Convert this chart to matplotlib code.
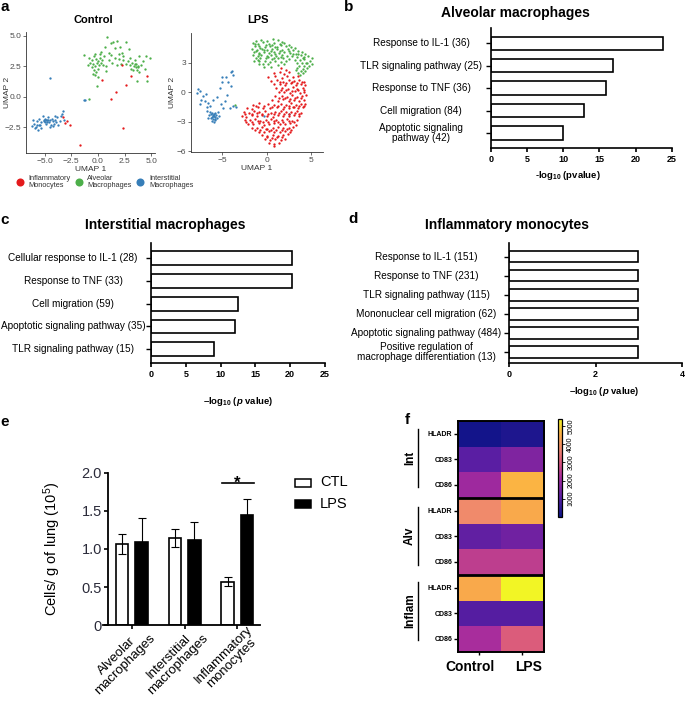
import numpy as np
import matplotlib
matplotlib.use('Agg')
import matplotlib.pyplot as plt
from matplotlib.colors import LinearSegmentedColormap
from matplotlib.patches import Rectangle
import matplotlib.transforms as mtransforms

plt.rcParams['font.family'] = ['Liberation Sans', 'DejaVu Sans']
plt.rcParams['mathtext.fontset'] = 'custom'
plt.rcParams['mathtext.rm'] = 'Liberation Sans'
plt.rcParams['mathtext.bf'] = 'Liberation Sans:bold'
plt.rcParams['mathtext.it'] = 'Liberation Sans:bold:italic'

# ---------------- data ----------------
# UMAP, Control
ctl_alv = [(-0.8,3.2),(-0.6,3.0),(-0.4,3.3),(-0.2,3.1),(0.0,2.9),(0.2,3.2),(0.4,3.0),(-0.5,2.7),(-0.3,2.5),(-0.1,2.8),
           (0.1,2.6),(0.3,2.8),(-0.7,2.8),(-0.9,2.6),(-0.4,2.2),(-0.2,2.0),(0.0,2.3),(-0.6,2.4),(0.5,2.6),(0.6,3.3),
           (-0.3,3.5),(0.2,3.5),(-0.5,1.9),(0.0,1.6),(-0.3,1.8),
           (2.8,2.9),(3.0,2.6),(3.2,2.8),(3.4,2.5),(3.6,2.7),(3.8,2.4),(4.0,2.6),(3.3,2.2),(3.7,2.2),(3.5,3.0),
           (2.6,2.7),(4.2,2.9),(3.9,2.0),(3.1,2.3),(2.4,3.0),(4.4,2.3),(3.0,3.2),(3.6,2.45),(3.45,2.65),(3.75,2.55),
           (1.0,3.0),(1.3,2.8),(1.6,3.2),(2.0,3.1),(2.2,2.7),(1.8,2.6),(0.8,2.5),(1.2,3.4),(2.0,3.5),(2.4,3.3),
           (0.9,4.9),(1.4,4.5),(1.8,4.6),(2.6,4.5),(1.2,4.4),(0.7,4.1),(2.1,4.1),(1.6,4.0),(2.9,3.9),(0.3,3.7),
           (2.3,3.6),(1.0,3.6),(-1.3,3.4),(3.9,3.3),(4.5,3.3),(4.9,3.2),
           (-0.06,0.85),(-0.85,-0.19),(4.6,1.25),(3.7,1.26),(0.73,2.08)]
ctl_inf = [(2.24,2.57),(0.41,1.34),(3.09,1.67),(4.57,1.67),(2.62,0.98),(1.73,0.36),(1.2,-0.16),(-3.31,-1.69),
           (-3.12,-2.16),(-2.59,-2.35),(2.37,-2.57),(-1.7,-3.99),(-2.9,-2.0)]
ctl_int = [(-6.2,-2.4),(-6.0,-2.2),(-5.8,-2.5),(-5.7,-2.0),(-5.5,-1.8),(-5.4,-2.3),(-5.3,-2.6),(-5.2,-1.6),(-5.1,-2.0),
           (-5.0,-1.8),(-4.9,-2.2),(-4.8,-1.9),(-4.7,-1.7),(-4.6,-2.1),(-4.5,-1.9),(-4.4,-2.3),(-4.3,-1.8),(-4.2,-2.0),
           (-4.1,-2.2),(-4.0,-1.9),(-3.9,-2.1),(-3.8,-1.7),(-3.7,-2.3),(-3.5,-1.6),(-3.4,-1.4),(-3.3,-1.2),(-3.2,-1.9),
           (-5.6,-2.7),(-5.9,-2.6),(-6.1,-1.9),(-4.95,-2.05),(-4.85,-1.95),(-4.75,-2.1),(-5.05,-1.9),(-4.65,-1.95),
           (-5.3,-2.1),(-4.5,-2.5),(-4.2,-2.4),(-3.6,-2.0),(-5.5,-2.3),(-5.7,-2.3),(-4.0,-1.6),
           (-4.5,1.55),(-1.17,-0.25),(-1.35,-0.3)]

# UMAP, LPS
lps_alv = [(-1.2,5.25),(-0.6,5.35),(0.1,5.2),(0.7,5.4),(1.3,5.3),(1.7,5.15),
           (-1.5,5.0),(-1.0,4.95),(-0.4,5.1),(0.3,4.9),(0.9,5.05),(1.5,4.95),(2.0,5.0),(2.5,4.85),
           (-1.3,4.7),(-0.8,4.75),(-0.2,4.6),(0.4,4.7),(1.0,4.65),(1.6,4.8),(2.2,4.7),(2.8,4.6),(3.2,4.5),
           (-1.6,4.4),(-1.1,4.35),(-0.5,4.45),(0.1,4.3),(0.6,4.45),(1.2,4.4),(1.8,4.35),(2.4,4.45),(3.0,4.3),(3.6,4.2),(4.0,4.1),
           (-1.4,4.1),(-0.9,4.05),(-0.3,4.15),(0.3,4.0),(0.8,4.1),(1.4,4.05),(2.0,4.15),(2.7,4.0),(3.3,3.95),(3.9,3.85),(4.4,3.9),
           (-1.5,3.8),(-1.0,3.7),(-0.6,3.85),(0.0,3.75),(0.5,3.8),(1.1,3.7),(1.7,3.85),(2.3,3.75),(2.9,3.7),(3.5,3.6),(4.1,3.55),(4.7,3.7),(5.1,3.5),
           (-1.2,3.5),(-0.7,3.45),(-0.1,3.55),(0.6,3.4),(1.3,3.5),(1.9,3.45),(2.6,3.4),(3.2,3.3),(3.8,3.25),(4.3,3.35),(4.9,3.2),
           (-1.4,3.2),(-0.8,3.15),(-0.2,3.2),(0.4,3.1),(1.0,3.2),(1.6,3.05),(2.2,3.15),(3.4,3.0),(4.0,2.95),(4.6,3.0),(5.2,2.9),
           (-0.9,2.9),(-0.4,2.85),(0.2,2.9),(1.3,2.8),(2.0,2.85),(3.7,2.7),(4.2,2.65),(4.8,2.7),
           (-0.3,2.6),(0.5,2.55),(3.5,2.45),(4.1,2.4),(4.6,2.5),
           (3.3,2.25),(3.9,2.15),(4.4,2.2),(3.6,1.95),(4.1,2.0),(3.8,1.75),
           (-1.3,4.9),(-0.7,4.55),(-0.1,4.85),(0.6,4.85),(1.2,4.6),(-1.2,4.25),(-0.3,4.3),(0.5,4.25),(1.0,3.95),
           (1.5,4.25),(-0.8,3.95),(0.2,3.6),(0.9,3.5),(-1.0,3.3),(1.6,3.6),(2.5,4.2),(3.0,3.9),(3.6,3.9),(4.2,3.6),(4.5,3.0),
           (-3.6,-1.3)]
lps_inf = [(1.6,2.45),(2.2,2.3),
           (0.9,2.0),(1.5,2.1),(2.0,1.9),(2.6,2.05),
           (0.2,1.55),(1.0,1.65),(1.7,1.5),(2.3,1.7),(3.0,1.55),(3.6,1.65),
           (0.5,1.2),(1.2,1.25),(1.9,1.1),(2.5,1.3),(3.1,1.15),(3.7,1.25),(4.2,1.1),
           (0.8,0.8),(1.5,0.85),(2.1,0.7),(2.8,0.9),(3.3,0.75),(3.9,0.85),(4.4,0.7),
           (1.1,0.4),(1.8,0.45),(2.4,0.3),(3.0,0.5),(3.5,0.35),(4.1,0.45),
           (1.4,0.0),(2.0,0.05),(2.7,-0.1),(3.2,0.1),(3.8,-0.05),(4.3,0.05),
           (1.0,-0.4),(1.7,-0.35),(2.3,-0.5),(2.9,-0.3),(3.4,-0.45),(4.0,-0.4),(4.5,-0.3),
           (0.6,-0.8),(1.3,-0.85),(1.9,-0.7),(2.6,-0.9),(3.1,-0.75),(3.7,-0.85),(4.2,-0.8),
           (-1.5,-1.25),(-0.8,-1.1),(0.2,-1.2),(0.9,-1.3),(1.6,-1.15),(2.2,-1.25),(2.8,-1.1),(3.3,-1.3),(3.9,-1.2),(4.4,-1.15),
           (-2.2,-1.6),(-1.6,-1.7),(-1.0,-1.55),(-0.4,-1.65),(0.4,-1.6),(1.2,-1.5),(1.9,-1.7),(2.5,-1.6),(3.0,-1.55),(3.6,-1.65),(4.1,-1.5),
           (-2.6,-2.0),(-2.0,-2.1),(-1.4,-1.95),(-0.8,-2.05),(-0.2,-1.95),(0.5,-2.1),(1.0,-2.0),(1.6,-1.9),(2.2,-2.05),(2.8,-2.0),(3.4,-1.9),(3.9,-2.1),
           (-2.8,-2.4),(-2.3,-2.5),(-1.7,-2.35),(-1.1,-2.45),(-0.5,-2.3),(0.1,-2.4),(0.7,-2.5),(1.3,-2.35),(1.9,-2.45),(2.5,-2.4),(3.1,-2.3),(3.7,-2.45),
           (-2.5,-2.8),(-1.9,-2.85),(-1.3,-2.75),(-0.7,-2.9),(-0.1,-2.8),(0.5,-2.7),(1.1,-2.85),(1.7,-2.8),(2.3,-2.75),(2.9,-2.9),(3.5,-2.8),
           (-2.1,-3.2),(-1.5,-3.25),(-0.9,-3.15),(-0.3,-3.3),(0.3,-3.2),(0.9,-3.1),(1.5,-3.25),(2.1,-3.2),(2.7,-3.15),(3.3,-3.3),
           (-1.7,-3.6),(-1.1,-3.65),(-0.5,-3.55),(0.1,-3.7),(0.7,-3.6),(1.3,-3.5),(1.9,-3.65),(2.5,-3.6),(3.0,-3.55),
           (-0.9,-4.0),(-0.3,-4.05),(0.3,-3.95),(0.9,-4.1),(1.5,-4.0),(2.1,-3.9),(2.7,-4.05),
           (-0.5,-4.4),(0.1,-4.45),(0.7,-4.35),(1.3,-4.5),(1.9,-4.4),(2.4,-4.3),
           (-0.2,-4.8),(0.4,-4.85),(1.0,-4.75),(1.6,-4.9),(2.1,-4.8),
           (0.3,-5.2),(0.9,-5.25),(1.4,-5.15),(0.8,-5.5),
           (1.5,1.0),(2.2,0.95),(2.9,1.05),(3.5,0.95),(4.0,1.0),
           (1.6,0.2),(2.2,0.25),(2.9,0.15),(3.6,0.2),(4.2,0.25),
           (1.4,-0.6),(2.1,-0.55),(2.7,-0.65),(3.2,-0.6),(3.9,-0.6),
           (-1.2,-1.4),(-0.3,-1.35),(0.6,-1.45),(1.3,-1.4),(2.0,-1.45),(2.6,-1.35),(3.1,-1.45),(3.7,-1.4),(4.2,-1.35),
           (-2.4,-2.2),(-1.7,-2.25),(-1.1,-2.15),(-0.5,-2.2),(0.2,-2.25),(0.9,-2.2),(1.4,-2.15),(2.0,-2.25),(2.6,-2.2),(3.2,-2.15),(3.7,-2.25),
           (-2.3,-3.0),(-1.6,-3.05),(-1.0,-2.95),(-0.4,-3.0),(0.2,-3.05),(0.8,-2.95),(1.3,-3.0),(1.9,-3.05),(2.5,-2.95),(3.1,-3.0),
           (-1.3,-3.8),(-0.7,-3.85),(-0.1,-3.75),(0.5,-3.8),(1.1,-3.85),(1.7,-3.8),(2.3,-3.75),(2.8,-3.8),
           (0.0,-4.6),(0.6,-4.65),(1.2,-4.6),(1.8,-4.55)]
lps_int = [(-6.5,-2.3),(-6.3,-2.6),(-6.1,-2.4),(-5.9,-2.7),(-6.0,-2.2),(-5.8,-2.5),(-6.2,-2.9),(-6.4,-2.0),(-5.7,-2.3),
           (-6.0,-3.0),(-6.3,-2.2),(-5.9,-2.1),(-6.1,-2.7),(-5.6,-2.6),(-6.6,-2.6),(-6.2,-2.5),(-5.95,-2.45),(-6.05,-2.35),
           (-6.15,-2.15),(-5.85,-2.85),(-5.5,-2.0),(-6.7,-1.9),(-5.4,-2.4),
           (-7.8,0.3),(-7.6,0.1),(-7.9,-0.1),(-7.4,-0.75),(-7.0,-0.9),(-6.6,-1.1),(-6.1,-0.75),(-7.2,-0.4),(-6.8,-1.5),
           (-6.4,-1.4),(-7.5,-1.2),(-6.9,-0.2),(-5.6,-0.5),(-5.3,0.4),(-5.1,1.1),(-5.1,1.6),(-4.0,2.1),(-3.8,1.8),
           (-3.9,2.2),(-4.4,1.0),(-4.0,0.6),(-4.5,-0.3),(-4.2,-1.6),(-3.8,-1.4),(-4.9,-1.6),(-3.5,-1.5),(-5.2,-1.2),
           (-4.7,-0.9),(-4.6,1.6),(-0.3,-2.4),(2.6,-2.2)]

# GO enrichment
alv_terms = ['Response to IL-1 (36)', 'TLR signaling pathway (25)', 'Response to TNF (36)',
             'Cell migration (84)', 'Apoptotic signaling\npathway (42)']
alv_vals = [23.8, 16.9, 15.9, 12.9, 9.9]
int_terms = ['Cellular response to IL-1 (28)', 'Response to TNF (33)', 'Cell migration (59)',
             'Apoptotic signaling pathway (35)', 'TLR signaling pathway (15)']
int_vals = [20.3, 20.3, 12.5, 12.1, 9.1]
inf_terms = ['Response to IL-1 (151)', 'Response to TNF (231)', 'TLR signaling pathway (115)',
             'Mononuclear cell migration (62)', 'Apoptotic signaling pathway (484)',
             'Positive regulation of\nmacrophage differentiation (13)']
inf_vals = [2.98, 2.98, 2.98, 2.98, 2.98, 2.98]

# Cell counts
cell_groups = ['Alveolar\nmacrophages', 'Interstitial\nmacrophages', 'Inflammatory\nmonocytes']
ctl_mean = [1.07, 1.14, 0.57]
ctl_err = [0.13, 0.12, 0.06]
lps_mean = [1.09, 1.12, 1.44]
lps_err = [0.31, 0.23, 0.22]

# Heatmap (MFI)
hm_rows = ['HLADR', 'CD83', 'CD86'] * 3
hm_groups = ['Int', 'Alv', 'Inflam']
hm_cols = ['Control', 'LPS']
hm_ctl = [110, 1080, 2050, 3780, 1190, 2540, 4430, 1030, 2210]
hm_lps = [270, 1620, 4640, 4430, 1400, 2540, 5400, 1030, 3080]

# ---------------- figure ----------------
W, H = 685, 709
fig = plt.figure(figsize=(W/100, H/100), dpi=100)

def rect(l, t, r, b):
    return [l/W, 1 - b/H, (r-l)/W, (b-t)/H]

ov = fig.add_axes([0, 0, 1, 1])
ov.set_xlim(0, W); ov.set_ylim(H, 0); ov.axis('off'); ov.patch.set_alpha(0)

RED, GREEN, BLUE = '#E41A1C', '#4DAF4A', '#377EB8'
GRAY = '#4d4d4d'

def umap_panel(ax, groups, xlim, ylim, xt, xtl, yt, ytl, ylab_x):
    for pts, col in groups:
        a = np.array(pts)
        ax.scatter(a[:, 0], a[:, 1], s=2.8, c=col, linewidths=0)
    ax.set_xlim(xlim); ax.set_ylim(ylim)
    ax.set_xticks(xt); ax.set_xticklabels(xtl)
    ax.set_yticks(yt); ax.set_yticklabels(ytl)
    for s in ['top', 'right']:
        ax.spines[s].set_visible(False)
    for s in ['left', 'bottom']:
        ax.spines[s].set_linewidth(0.6); ax.spines[s].set_color('#333333')
    ax.tick_params(length=2, width=0.5, color='#333333', labelsize=6, labelcolor=GRAY, pad=1.5)
    ax.set_xlabel('UMAP 1', fontsize=6, color='#333333', labelpad=1)
    ax.set_ylabel('UMAP 2', fontsize=6, color='#333333')
    ax.yaxis.set_label_coords(ylab_x, 0.5)

ax_a1 = fig.add_axes(rect(26, 31.7, 155, 152.7))
umap_panel(ax_a1, [(ctl_alv, GREEN), (ctl_int, BLUE), (ctl_inf, RED)], (-6.75, 5.36), (-4.59, 5.33),
           [-5, -2.5, 0, 2.5, 5], ['\u22125.0', '\u22122.5', '0.0', '2.5', '5.0'],
           [-2.5, 0, 2.5, 5], ['\u22122.5', '0.0', '2.5', '5.0'], -0.118)
ax_a2 = fig.add_axes(rect(190.7, 33, 323, 151.7))
umap_panel(ax_a2, [(lps_alv, GREEN), (lps_int, BLUE), (lps_inf, RED)], (-8.6, 6.4), (-6.06, 6.05),
           [-5, 0, 5], ['\u22125', '0', '5'], [-6, -3, 0, 3], ['\u22126', '\u22123', '0', '3'], -0.11)
ov.text(93, 20, 'Control', fontsize=8, weight='bold', ha='center', va='center')
ov.text(258, 20, 'LPS', fontsize=8, weight='bold', ha='center', va='center')
for xd, col, lab, xt in [(20, RED, 'Inflammatory\nMonocytes', 28), (79, GREEN, 'Alveolar\nMacrophages', 87),
                         (140, BLUE, 'Interstitial\nMacrophages', 149)]:
    ov.plot([xd], [182], 'o', ms=5.8, color=col, mec='none')
    ov.text(xt, 182, lab, fontsize=5.3, color='#333333', ha='left', va='center', linespacing=1.1)

# ---- bar panels b, c, d ----
def go_panel(ax, terms, vals, xlim, xticks, lab_px, ax_l, ax_w, ylim, xlabel, xl_frac, xl_y):
    pos = np.arange(len(vals))
    ax.barh(pos, vals, height=0.6, color='white', edgecolor='black', linewidth=1.2)
    ax.set_xlim(xlim); ax.set_ylim(ylim)
    ax.set_xticks(xticks)
    ax.set_yticks(pos); ax.set_yticklabels([])
    for s in ['top', 'right']:
        ax.spines[s].set_visible(False)
    for s in ['left', 'bottom']:
        ax.spines[s].set_linewidth(1.2)
    ax.tick_params(axis='y', length=3.3, width=1.0)
    ax.tick_params(axis='x', length=3, width=1.2, labelsize=6.5, pad=1.5)
    for t in ax.get_xticklabels():
        t.set_fontweight('bold')
    tr = mtransforms.blended_transform_factory(ax.transAxes, ax.transData)
    fx = (lab_px - ax_l) / ax_w
    for p, lab in zip(pos, terms):
        ax.text(fx, p, lab, transform=tr, ha='center', va='center', fontsize=7.2,
                multialignment='center', linespacing=1.05)
    ax.text(xl_frac, xl_y, xlabel, transform=ax.transAxes, ha='center', va='center',
            fontsize=6.8, weight='bold')

DASH = '\u2013'
ax_b = fig.add_axes(rect(491, 28.3, 671.7, 148.3))
go_panel(ax_b, alv_terms, alv_vals, (0, 25), [0, 5, 10, 15, 20, 25], 421, 491, 180.7, (4.68, -0.67),
         r'-log$_{\mathbf{10}}$ (pvalue)', 0.423, -0.228)
ov.text(515, 13.5, 'Alveolar macrophages', fontsize=10, weight='bold', ha='center', va='center')

ax_c = fig.add_axes(rect(151, 243, 325, 363.3))
go_panel(ax_c, int_terms, int_vals, (0, 25), [0, 5, 10, 15, 20, 25], 73, 151, 174, (4.62, -0.67),
         DASH + r'log$_{\mathbf{10}}$ ($\mathit{p}$ value)', 0.5, -0.319)
ov.text(165, 225, 'Interstitial macrophages', fontsize=10, weight='bold', ha='center', va='center')

ax_d = fig.add_axes(rect(509, 243.3, 682, 363.3))
go_panel(ax_d, inf_terms, inf_vals, (0, 4), [0, 2, 4], 426, 509, 173, (5.59, -0.70),
         DASH + r'log$_{\mathbf{10}}$ ($\mathit{p}$ value)', 0.55, -0.236)
ov.text(507, 225, 'Inflammatory monocytes', fontsize=10, weight='bold', ha='center', va='center')

# ---- panel e ----
ax_e = fig.add_axes(rect(103.3, 472.7, 260, 625.3))
xg = np.arange(len(cell_groups))
off, bw = 0.185, 0.237
ax_e.bar(xg - off, ctl_mean, bw, color='white', edgecolor='black', linewidth=1.2, zorder=2)
ax_e.bar(xg + off, lps_mean, bw, color='black', edgecolor='black', linewidth=1.2, zorder=2)
ax_e.errorbar(xg - off, ctl_mean, yerr=ctl_err, fmt='none', ecolor='black', elinewidth=0.8,
              capsize=3, capthick=0.8, zorder=3)
ax_e.errorbar(xg + off, lps_mean, yerr=[np.zeros(len(lps_err)), lps_err], fmt='none', ecolor='black',
              elinewidth=0.8, capsize=3, capthick=0.8, zorder=1)
ax_e.set_xlim(-0.543, 2.43); ax_e.set_ylim(0, 2.0)
for s in ['top', 'right']:
    ax_e.spines[s].set_visible(False)
ax_e.spines['left'].set_position(('axes', 5/156.7))
ax_e.spines['left'].set_bounds(0, 2)
for s in ['left', 'bottom']:
    ax_e.spines[s].set_linewidth(1.3)
ax_e.set_yticks([0, 0.5, 1.0, 1.5, 2.0])
ax_e.set_yticklabels(['0', '0.5', '1.0', '1.5', '2.0'])
ax_e.tick_params(axis='y', length=3, width=1.2, labelsize=10.5, labelcolor='#2b2b3a', pad=1.5)
ax_e.set_xticks(xg); ax_e.set_xticklabels([])
ax_e.tick_params(axis='x', length=3, width=1.2)
lab_tr = ax_e.transData + mtransforms.ScaledTranslation(0.17, -0.07, fig.dpi_scale_trans)
for xi, lab in zip(xg, cell_groups):
    ax_e.text(xi, 0, lab, transform=lab_tr, rotation=45, ha='right', va='center', rotation_mode='anchor',
              multialignment='center', fontsize=9.5, linespacing=1.0, clip_on=False)
ax_e.plot([1.70, 2.32], [1.86, 1.86], color='black', lw=1.2, clip_on=False)
ax_e.text(2.0, 1.80, '*', ha='center', va='baseline', fontsize=12, weight='bold', clip_on=False)
ax_e.set_ylabel('Cells/ g of lung (10$^5$)', fontsize=10.5)
ax_e.yaxis.set_label_coords(-0.255, 0.5)
ov.add_patch(Rectangle((295, 478.5), 16.5, 8.3, facecolor='white', edgecolor='black', lw=1.1))
ov.text(320, 481.5, 'CTL', fontsize=10.5, ha='left', va='center')
ov.add_patch(Rectangle((295, 499.5), 16.5, 8.3, facecolor='black', edgecolor='black', lw=1.1))
ov.text(320, 503.5, 'LPS', fontsize=10.5, ha='left', va='center')

# ---- panel f ----
cmap = LinearSegmentedColormap.from_list('mfi', [(0.0, '#0c1488'), (0.2, '#5a1ea3'), (0.4, '#a62b9e'),
                                                 (0.55, '#d8557e'), (0.7, '#f08a6c'), (0.85, '#fcb045'),
                                                 (1.0, '#f2f525')])
M = np.column_stack([hm_ctl, hm_lps])
ax_f = fig.add_axes(rect(457.7, 420.7, 544, 651.7))
im = ax_f.imshow(M, cmap=cmap, vmin=0, vmax=5400, aspect='auto', interpolation='nearest')
ax_f.axhline(2.5, color='black', lw=2)
ax_f.axhline(5.5, color='black', lw=2)
ax_f.set_yticks(np.arange(len(hm_rows)))
ax_f.set_yticklabels(hm_rows, fontsize=5, fontweight='bold')
ax_f.set_xticks(np.arange(len(hm_cols)))
ax_f.set_xticklabels([])
ax_f.tick_params(axis='y', length=3, width=1.0, pad=0.8)
ax_f.tick_params(axis='x', length=2, width=1.0)
for s in ax_f.spines.values():
    s.set_linewidth(1.4)
ov.text(470, 667, hm_cols[0], fontsize=10, weight='bold', ha='center', va='center')
ov.text(529, 667, hm_cols[1], fontsize=10, weight='bold', ha='center', va='center')
for g, (y0, y1) in zip(hm_groups, [(429, 487), (506.7, 565), (581.7, 640)]):
    ov.plot([418.3, 418.3], [y0, y1], color='black', lw=1.0)
    ov.text(410, (y0 + y1) / 2, g, rotation=90, fontsize=8.5, weight='bold', ha='center', va='center')
cax = fig.add_axes(rect(557.7, 419, 561.7, 516.7))
cb = fig.colorbar(im, cax=cax, ticks=[1000, 2000, 3000, 4000, 5000])
cb.outline.set_linewidth(0.9)
cb.ax.tick_params(labelsize=5, length=2, width=0.6, pad=2)
for t in cb.ax.get_yticklabels():
    t.set_rotation(90); t.set_va('center')

# panel letters
for L, x, y in [('a', 5, 7), ('b', 349, 7), ('c', 5, 220), ('d', 353, 219), ('e', 5, 422), ('f', 407, 420)]:
    ov.text(x, y, L, fontsize=11, weight='bold', ha='center', va='center')

fig.savefig('out.png', dpi=100)
